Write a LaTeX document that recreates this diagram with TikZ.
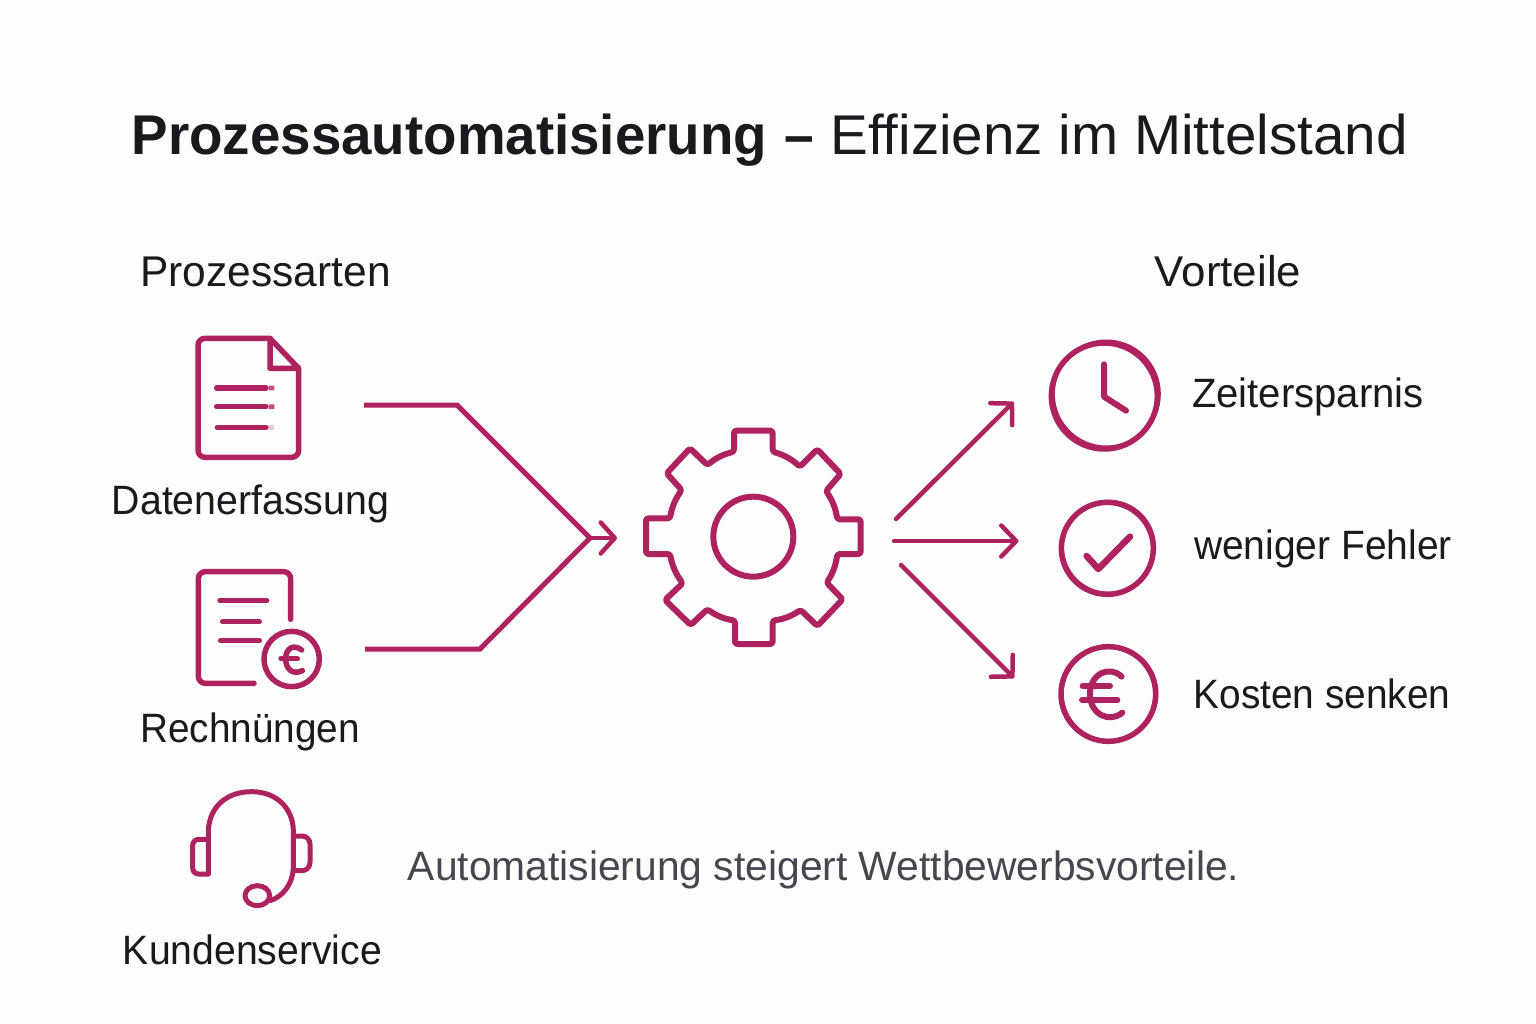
\documentclass[tikz,border=0pt]{standalone}
\usepackage{graphicx}
\usepackage{fontspec}
\usetikzlibrary{arrows.meta}
\setmainfont{Liberation Sans}
\definecolor{ink}{HTML}{AE235F}
\definecolor{paper}{HTML}{FDFDFD}
\definecolor{txt}{HTML}{1A1A1E}
\definecolor{note}{HTML}{46464E}
\newcommand{\narrowed}[2]{\scalebox{#1}[1]{#2}}
\tikzset{
  icon/.style={draw=ink,line width=5.5pt,line cap=round,line join=round},
  thinicon/.style={draw=ink,line width=5pt,line cap=round,line join=round},
  link/.style={draw=ink,line width=5pt,line join=miter},
  arrowlink/.style={draw=ink,line width=4.5pt,line cap=round,-{Straight Barb[length=15pt,width=31pt,round]}},
  smallarrow/.style={draw=ink,line width=4.5pt,line cap=round,-{Straight Barb[length=14pt,width=31pt,round]}},
  lab/.style={anchor=base,inner sep=0pt,text=txt,font=\fontsize{41}{41}\selectfont},
  head/.style={anchor=base,inner sep=0pt,text=txt,font=\fontsize{43}{43}\selectfont},
}
\begin{document}
\begin{tikzpicture}[x=1pt,y=-1pt]
\useasboundingbox[fill=paper] (0,0) rectangle (1536,1024);
% title and headings
\node[anchor=base west,inner sep=0pt,text=txt,font=\fontsize{56}{56}\selectfont] (title) at (131.5,155) {\narrowed{.977}{\textbf{Prozessautomatisierung}}\hspace{1.5pt} \narrowed{.95}{\textbf{–}}\hspace{1pt} \narrowed{1.01}{Effizienz im Mittelstand}};
\node[head] (hleft) at (265.5,287) {\narrowed{.988}{Prozessarten}};
\node[head] (hright) at (1228,287) {\narrowed{1.02}{Vorteile}};
\node[lab] (ldata) at (250.5,514.5) {\narrowed{.958}{Datenerfassung}};
\node[lab] (lbill) at (250,742.5) {\narrowed{.945}{Rechnüngen}};
\node[lab] (lserv) at (252.5,964.5) {\narrowed{.955}{Kundenservice}};
\node[lab] (ltime) at (1308,407) {\narrowed{.978}{Zeitersparnis}};
\node[lab] (lerr) at (1323,559) {\narrowed{.95}{weniger Fehler}};
\node[lab] (lcost) at (1322,708.5) {\narrowed{.947}{Kosten senken}};
\node[anchor=base,inner sep=0pt,text=note,font=\fontsize{41}{41}\selectfont] (lnote) at (823.5,880) {\narrowed{.995}{Automatisierung steigert Wettbewerbsvorteile.}};
% document icon
\begin{scope}[shift={(100,320)},scale=1/3]
\draw[icon,rounded corners=7pt] (510,55) -- (294,55) -- (294,412) -- (596,412) -- (596,145);
\draw[icon] (510,55) -- (596,145) -- (510,145) -- cycle;
\draw[icon] (350,204) -- (498,204) (350,260) -- (498,260) (352,322) -- (498,322);
\fill[ink!80] (507,197) rectangle (523,211) (507,253) rectangle (523,267);
\fill[ink!25] (507,315) rectangle (521,329);
\end{scope}
% invoice icon
\begin{scope}[shift={(100,320)},scale=1/3]
\draw[icon,rounded corners=7pt] (572,898) -- (572,755) -- (295,755) -- (295,1090) -- (462,1090);
\draw[icon] (360,842) -- (500,842) (368,905) -- (478,905) (362,962) -- (478,962);
\draw[icon] (575,1017) circle[radius=83];
\draw[icon] (605,990) .. controls (570,965) and (555,1000) .. (557,1018) .. controls (558,1050) and (580,1065) .. (607,1052);
\draw[icon] (543,1016) -- (592,1016);
\end{scope}
% headset icon
\begin{scope}[shift={(170,780)},scale=1/3]
\draw[thinicon] (115,282) -- (115,150) .. controls (120,75) and (175,35) .. (245,35) .. controls (320,35) and (368,85) .. (370,150) -- (370,265) .. controls (368,310) and (340,350) .. (300,362);
\draw[thinicon,rounded corners=6pt] (112,178) -- (68,178) -- (68,282) -- (115,282);
\draw[thinicon,rounded corners=8pt] (375,168) -- (420,168) -- (420,272) -- (375,272);
\draw[thinicon] (262,347) ellipse[x radius=37,y radius=30];
\end{scope}
% gear
\begin{scope}[shift={(620,410)},scale=1/3]
\draw[icon,line width=6pt,rounded corners=2.5pt] (400,62) -- (458,62) -- (458,125)
  to[bend left=12] (540,170) -- (592,118) -- (662,192) -- (618,243)
  to[bend left=12] (652,328) -- (722,328) -- (722,432) -- (652,432)
  to[bend left=12] (620,518) -- (668,568) -- (592,648) -- (542,600)
  to[bend left=12] (458,632) -- (458,702) -- (345,702) -- (345,632)
  to[bend left=12] (262,598) -- (212,645) -- (135,570) -- (188,520)
  to[bend left=12] (150,432) -- (78,432) -- (78,325) -- (150,325)
  to[bend left=12] (185,240) -- (140,190) -- (210,115) -- (262,165)
  to[bend left=12] (342,125) -- (342,62) -- cycle;
\draw[icon,line width=6pt] (400,380) circle[radius=120];
\end{scope}
% benefit icons
\begin{scope}[shift={(880,330)},scale=1/3]
\draw[icon] (673,198) circle[radius=159];
\draw[draw=ink,line width=3pt] (679,192) circle[radius=159];
\draw[icon,line width=6pt] (672,103) -- (672,200) -- (738,242);
\draw[icon] (682,655) circle[radius=138];
\draw[draw=ink,line width=2.5pt] (686,651) circle[radius=138];
\draw[icon,line width=6.5pt] (620,678) -- (655,717) -- (750,620);
\draw[icon] (685,1092) circle[radius=142];
\draw[draw=ink,line width=2.5pt] (689,1090) circle[radius=142];
\draw[icon,line width=6pt] (725,1040) .. controls (690,1005) and (630,1030) .. (630,1092) .. controls (630,1155) and (690,1180) .. (727,1148);
\draw[icon,line width=6pt] (608,1068) -- (690,1068) (606,1110) -- (712,1110);
\end{scope}
% connector anchors
\coordinate (srcA) at (364,405);
\coordinate (srcB) at (365,649);
\coordinate (bendA) at (457,405);
\coordinate (bendB) at (480,649);
\coordinate (merge) at (590,538);
\coordinate (gearin) at (617,538);
\coordinate (outA) at (896,519);
\coordinate (outB) at (894,541);
\coordinate (outC) at (901,565);
\coordinate (toA) at (1013.5,402);
\coordinate (toB) at (1018.5,541);
\coordinate (toC) at (1014,678);
\draw[link] (srcA) -- (bendA) -- (merge);
\draw[link] (srcB) -- (bendB) -- (merge);
\draw[smallarrow] (merge) -- (gearin);
\draw[arrowlink] (outA) -- (toA);
\draw[arrowlink] (outB) -- (toB);
\draw[arrowlink] (outC) -- (toC);
\end{tikzpicture}
\end{document}
